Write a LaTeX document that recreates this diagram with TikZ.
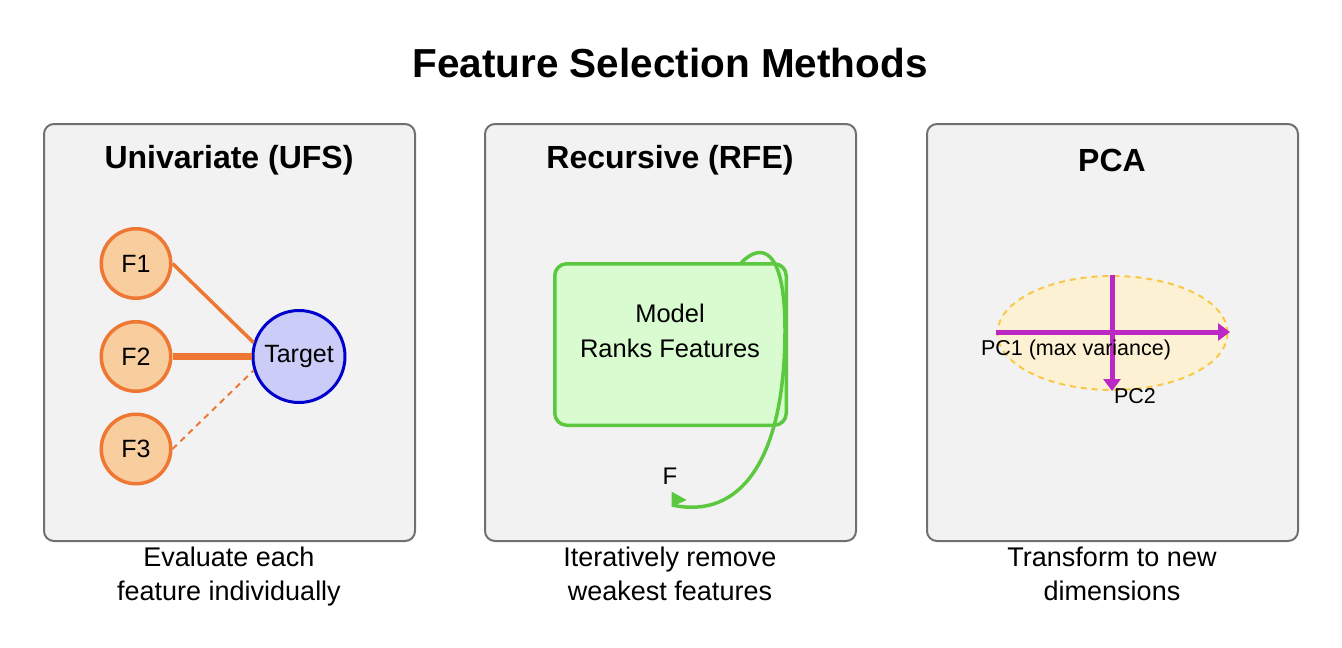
\documentclass[tikz,border=0pt]{standalone}
\usepackage{fontspec}
\setmainfont{Liberation Sans}
\usetikzlibrary{arrows.meta,shapes.geometric}
\definecolor{panelfill}{HTML}{F2F2F2}
\definecolor{panelline}{HTML}{707070}
\definecolor{featfill}{HTML}{F8CE9F}
\definecolor{featline}{HTML}{EE7733}
\definecolor{tgtfill}{HTML}{CCCCF9}
\definecolor{tgtline}{HTML}{0000CC}
\definecolor{modfill}{HTML}{D8FBD0}
\definecolor{modline}{HTML}{5BC83F}
\definecolor{elfill}{HTML}{FCF1D3}
\definecolor{elline}{HTML}{F9C846}
\definecolor{pcline}{HTML}{BB28C4}
\tikzset{
  panel/.style={draw=panelline,fill=panelfill,line width=2pt,rounded corners=10pt},
  paneltitle/.style={font=\bfseries\fontsize{32}{38}\selectfont,inner sep=0pt},
  caption/.style={font=\fontsize{27}{34}\selectfont,align=center,inner sep=0pt},
  feat/.style={circle,draw=featline,fill=featfill,line width=3.5pt,minimum size=69.5pt,inner sep=0pt,font=\fontsize{25}{29}\selectfont},
  tgt/.style={circle,draw=tgtline,fill=tgtfill,line width=3pt,minimum size=92pt,inner sep=0pt,font=\fontsize{25}{29}\selectfont},
  link/.style={draw=featline},
  pcaxis/.style={draw=pcline,line width=5pt,-{Triangle[length=12pt,width=17pt]}},
  lbl/.style={inner sep=0pt}
}
\begin{document}
\begin{tikzpicture}[x=1pt,y=-1pt]
\useasboundingbox[fill=white] (0,0) rectangle (1342,648);
% title
\node[font=\bfseries\fontsize{40.5}{48}\selectfont,inner sep=0pt] (title) at (670,63) {Feature Selection Methods};
% panels
\draw[panel] (44,124) rectangle (415,541);
\draw[panel] (485,124) rectangle (856,541);
\draw[panel] (927,124) rectangle (1298,541);
\node[paneltitle] (t1) at (229,160) {Univariate (UFS)};
\node[paneltitle] (t2) at (670,160) {Recursive (RFE)};
\node[paneltitle] (t3) at (1112,160) {PCA};
% captions
\node[caption] (c1) at (229,577) {Evaluate each\\feature individually};
\node[caption] (c2) at (670,574) {Iteratively remove\\weakest features};
\node[caption] (c3) at (1112,574) {Transform to new\\dimensions};
% panel 1
\node[feat] (F1) at (136,263.5) {F1};
\node[feat] (F2) at (136,356.5) {F2};
\node[feat] (F3) at (136,449) {F3};
\node[tgt] (T) at (299,356.5) {Target};
\draw[link,line width=3.5pt] (F1.east) -- (T.163);
\draw[link,line width=7pt] (F2.east) -- (T.west);
\draw[link,line width=2pt,dash pattern=on 6pt off 5pt] (F3.east) -- (T.197);
% panel 2
\node[draw=modline,fill=modfill,line width=3.5pt,rounded corners=12pt,minimum width=231.5pt,minimum height=161.5pt,inner sep=0pt] (M) at (670.5,344.5) {};
\node[font=\fontsize{25.5}{35}\selectfont,align=center,inner sep=0pt] (Mt) at (670,331) {Model\\Ranks Features};
\coordinate (ls) at (741,263);
\coordinate (lm) at (785,330);
\coordinate (le) at (672,505);
\draw[modline,line width=3.5pt] (ls) .. controls (760,243) and (785,245) .. (lm) .. controls (785,460) and (740,520) .. (le);
\fill[modline] (671.7,491.7) -- (686.7,500) -- (671.7,506.7) -- cycle;
\node[lbl,font=\fontsize{24}{28}\selectfont] (Fl) at (670,476) {F};
% panel 3
\node[ellipse,draw=elline,fill=elfill,line width=2pt,dash pattern=on 6pt off 5pt,minimum width=230pt,minimum height=114pt,inner sep=0pt] (E) at (1112.5,333) {};
\coordinate (h1) at (996,332);
\coordinate (h2) at (1230,332);
\coordinate (v1) at (1112,275);
\coordinate (v2) at (1112,391);
\draw[pcaxis] (h1) -- (h2);
\draw[pcaxis] (v1) -- (v2);
\node[lbl,font=\fontsize{21.5}{25}\selectfont] (pc1) at (1076,350) {PC1 (max variance)};
\node[lbl,font=\fontsize{21.5}{25}\selectfont] (pc2) at (1135,396) {PC2};
\end{tikzpicture}
\end{document}
